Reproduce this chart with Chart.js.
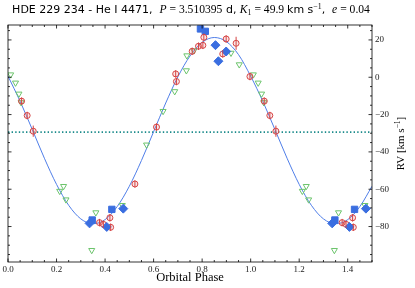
<!DOCTYPE html>
<html>
<head>
<meta charset="utf-8">
<script src="https://cdn.jsdelivr.net/npm/chart.js@4"></script>
<style>
  html, body { margin: 0; padding: 0; background: #fff; }
  #wrap { width: 415px; height: 288px; }
</style>
</head>
<body>
<div id="wrap"><canvas id="rvChart"></canvas></div>
<script>
// observed RVs, phase folded (0..1), shown again at phase+1 up to 1.5
const greenPhase = [0.011, 0.031, 0.045, 0.054, 0.213, 0.229, 0.239, 0.345, 0.362, 0.471, 0.571, 0.639, 0.687, 0.735, 0.737, 0.766, 0.919, 0.953];
const greenRV = [1.4, -3.0, -8.9, -13.5, -61.0, -58.4, -65.6, -92.7, -72.5, -68.6, -36.2, -18.2, -7.6, 3.6, 11.6, 14.3, 13.0, 6.8];

const redPhase = [0.056, 0.079, 0.104, 0.377, 0.393, 0.420, 0.423, 0.523, 0.612, 0.691, 0.694, 0.759, 0.785, 0.803, 0.807, 0.885, 0.899, 0.940, 0.997];
const redRV = [-12.8, -20.5, -28.9, -77.9, -78.8, -75.3, -80.4, -57.2, -26.7, 1.8, -2.3, 13.9, 16.6, 17.1, 21.4, 12.5, 20.5, 18.2, 0.4];
const redErr = [2, 2, 3, 2, 2, 2, 2, 2, 2, 2, 2, 2, 2, 2, 2, 2, 2, 3.5, 2];

const diamondPhase = [0.336, 0.407, 0.475, 0.855, 0.867, 0.899];
const diamondRV = [-78.3, -80.2, -70.4, 17.2, 8.6, 13.8];
const squarePhase = [0.347, 0.428, 0.793, 0.813];
const squareRV = [-76.5, -70.8, 25.9, 24.6];

// orbital solution curve
const fitPhase = [0, 0.05, 0.1, 0.15, 0.2, 0.25, 0.3, 0.35, 0.4, 0.45, 0.5, 0.55, 0.6, 0.65, 0.7, 0.75, 0.8, 0.85, 0.9, 0.95,
                  1.0, 1.05, 1.1, 1.15, 1.2, 1.25, 1.3, 1.35, 1.4, 1.45, 1.5];
const fitRV = [0.6, -12.9, -28.0, -43.4, -57.4, -68.6, -75.9, -78.5, -76.3, -69.3, -58.4, -44.6, -29.2, -13.8, 0.2, 11.4, 18.7, 21.3, 19.1, 12.1,
               0.6, -12.9, -28.0, -43.4, -57.4, -68.6, -75.9, -78.5, -76.3, -69.3, -58.4];
const systemicRV = -29.4;

const xTicks = [0, 0.2, 0.4, 0.6, 0.8, 1.0, 1.2, 1.4];
const yTicks = [20, 0, -20, -40, -60, -80];

const SANS = '11px "DejaVu Sans"';
const SERIF = '11.6px "Liberation Serif"';
const ITAL = 'italic 11.6px "Liberation Serif"';
const SMALL = '7.8px "Liberation Serif"';
const titleParts = [
    ['HDE 229 234 - He I 4471,  ', SANS, 0],
    ['P', ITAL, 0], [' = 3.510395', SERIF, 0], [' d, ', SANS, 0],
    ['K', ITAL, 0], ['1', SMALL, 2], [' = 49.9 ', SERIF, 0],
    ['km s', SANS, 0], ['\u22121', SMALL, -4.5], [',  ', SANS, 0],
    ['e', ITAL, 0], [' = 0.04', SERIF, 0]
];

function fold(phase, rv, err) {
    const pts = [];
    phase.forEach((p, i) => {
        pts.push({ x: p, y: rv[i], e: err ? err[i] : 0 });
        if (p + 1 <= 1.5) pts.push({ x: p + 1, y: rv[i], e: err ? err[i] : 0 });
    });
    return pts;
}

function drawParts(ctx, parts, x, y) {
    parts.forEach(([txt, font, dy]) => {
        ctx.font = font;
        ctx.fillText(txt, x, y + dy);
        x += ctx.measureText(txt).width;
    });
    return x;
}
function partsWidth(ctx, parts) {
    let w = 0;
    parts.forEach(([txt, font]) => { ctx.font = font; w += ctx.measureText(txt).width; });
    return w;
}

const decorations = {
    id: 'decorations',
    afterDatasetsDraw(chart) {
        const { ctx, scales: { x, y } } = chart;
        ctx.save();
        ctx.strokeStyle = '#d64545';
        ctx.lineWidth = 1;
        chart.data.datasets[1].data.forEach(pt => {
            const px = x.getPixelForValue(pt.x);
            ctx.beginPath();
            ctx.moveTo(px, y.getPixelForValue(pt.y - pt.e));
            ctx.lineTo(px, y.getPixelForValue(pt.y + pt.e));
            ctx.stroke();
        });
        ctx.restore();
    },
    afterDraw(chart) {
        const { ctx, chartArea: a, scales: { x, y } } = chart;
        ctx.save();
        ctx.strokeStyle = '#000';
        ctx.lineWidth = 0.8;
        ctx.strokeRect(a.left, a.top, a.right - a.left, a.bottom - a.top);

        // inward ticks on all four sides
        ctx.beginPath();
        for (let i = 0; i <= 30; i++) {
            const px = x.getPixelForValue(i * 0.05);
            const len = i % 4 === 0 ? 3.5 : 2;
            ctx.moveTo(px, a.bottom); ctx.lineTo(px, a.bottom - len);
            ctx.moveTo(px, a.top); ctx.lineTo(px, a.top + len);
        }
        for (let v = -95; v <= 25; v += 5) {
            const py = y.getPixelForValue(v);
            const len = v % 20 === 0 ? 3.5 : 2;
            ctx.moveTo(a.left, py); ctx.lineTo(a.left + len, py);
            ctx.moveTo(a.right, py); ctx.lineTo(a.right - len, py);
        }
        ctx.stroke();

        ctx.fillStyle = '#000';
        ctx.textBaseline = 'alphabetic';
        const tw = partsWidth(ctx, titleParts);
        drawParts(ctx, titleParts, Math.max(4, 191 - tw / 2), 13);

        ctx.font = '12.5px "Liberation Serif"';
        ctx.textAlign = 'center';
        ctx.textBaseline = 'middle';
        ctx.fillText('Orbital Phase', (a.left + a.right) / 2, 277.5);

        const yParts = [['RV [km s', '11px "Liberation Serif"', 0], ['\u22121', '7.5px "Liberation Serif"', -4], [']', '11px "Liberation Serif"', 0]];
        ctx.textAlign = 'left';
        ctx.textBaseline = 'alphabetic';
        ctx.translate(404, (a.top + a.bottom) / 2);
        ctx.rotate(-Math.PI / 2);
        drawParts(ctx, yParts, -partsWidth(ctx, yParts) / 2, 0);
        ctx.restore();
    }
};

const ctx = document.getElementById('rvChart').getContext('2d');
const chart = new Chart(ctx, {
    type: 'scatter',
    data: {
        datasets: [
            {
                data: fold(diamondPhase, diamondRV),
                pointStyle: 'rectRot', pointRadius: 4.5,
                backgroundColor: '#3a6ee0', borderColor: '#3a6ee0', borderWidth: 1
            },
            {
                data: fold(redPhase, redRV, redErr),
                pointStyle: 'circle', pointRadius: 3,
                backgroundColor: 'rgba(230,110,110,0.18)', borderColor: '#d64545', borderWidth: 1
            },
            {
                data: fold(squarePhase, squareRV),
                pointStyle: 'rect', pointRadius: 4.5,
                backgroundColor: '#3a6ee0', borderColor: '#3a6ee0', borderWidth: 1
            },
            {
                data: fold(greenPhase, greenRV),
                pointStyle: 'triangle', rotation: 180, pointRadius: 3.5,
                backgroundColor: 'rgba(0,0,0,0)', borderColor: '#6cc46c', borderWidth: 1
            },
            {
                type: 'line',
                data: fitPhase.map((p, i) => ({ x: p, y: fitRV[i] })),
                borderColor: '#4f7ee8', borderWidth: 1, pointRadius: 0,
                cubicInterpolationMode: 'monotone', fill: false
            },
            {
                type: 'line',
                data: [{ x: 0, y: systemicRV }, { x: 1.5, y: systemicRV }],
                borderColor: '#1d8c8c', borderWidth: 1.6, borderDash: [1.4, 2.2],
                pointRadius: 0, fill: false
            }
        ]
    },
    options: {
        responsive: true,
        maintainAspectRatio: false,
        animation: false,
        layout: { padding: { left: 8, top: 25, right: 0, bottom: 0 } },
        plugins: { legend: { display: false }, tooltip: { enabled: false }, title: { display: false } },
        scales: {
            x: {
                type: 'linear', position: 'bottom', min: 0, max: 1.5,
                afterBuildTicks: s => { s.ticks = xTicks.map(v => ({ value: v })); },
                afterFit: s => { s.height = 26; },
                grid: { display: false, drawTicks: false },
                border: { display: false },
                ticks: {
                    padding: 2, maxRotation: 0, autoSkip: false, color: '#222',
                    font: { family: '"Liberation Serif"', size: 9 },
                    callback: v => v.toFixed(1)
                }
            },
            y: {
                type: 'linear', position: 'right', min: -99, max: 28,
                afterBuildTicks: s => { s.ticks = yTicks.map(v => ({ value: v })); },
                afterFit: s => { s.width = 43; },
                grid: { display: false, drawTicks: false },
                border: { display: false },
                ticks: {
                    padding: 3, color: '#222',
                    font: { family: '"Liberation Serif"', size: 9 },
                    callback: v => (v < 0 ? '\u2212' + Math.abs(v) : String(v))
                }
            }
        }
    },
    plugins: [decorations]
});
</script>
</body>
</html>
